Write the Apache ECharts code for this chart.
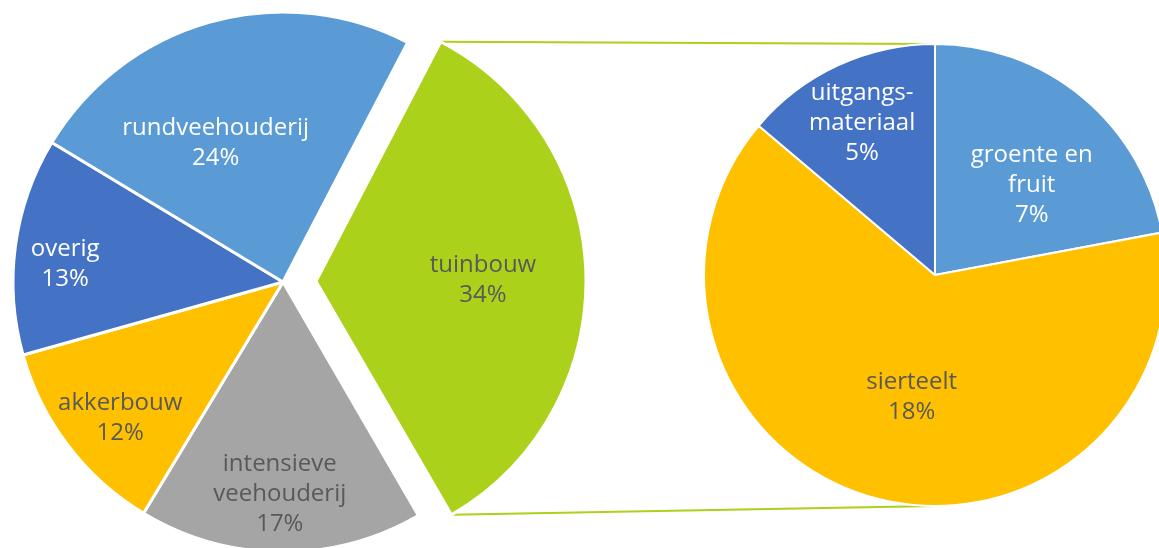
<!DOCTYPE html>
<html><head><meta charset="utf-8">
<script src="https://cdn.jsdelivr.net/npm/echarts@6/dist/echarts.min.js"></script>
<style>html,body{margin:0;padding:0;background:#fff}#c{width:1159px;height:548px}</style>
</head><body><div id="c"></div>
<script>
// main pie: sectors (clockwise from the exploded slice)
const sectorNames = ['tuinbouw', 'intensieve\nveehouderij', 'akkerbouw', 'overig', 'rundveehouderij'];
const sectorValues = [34, 17, 12, 13, 24];
const detailNames = ['groente en\nfruit', 'sierteelt', 'uitgangs-\nmateriaal'];
const detailShares = [7.5, 21.8, 4.7];
const detailLabels = ['7%', '18%', '5%'];

const sectorColors = ['#ABD11A', '#A5A5A5', '#FFC000', '#4472C4', '#5B9BD5'];
const sectorText = ['#595959', '#595959', '#595959', '#ffffff', '#ffffff'];
const detailColors = ['#5B9BD5', '#FFC000', '#4472C4'];
const detailText = ['#ffffff', '#595959', '#ffffff'];

// layout
const L = { c: [283, 282], r: 270, start: 62.5, explode: 33 };
const Rp = { c: [935, 275], r: 231, start: 90 };
const leftNudge = [[29, 2], [-2, 74], [-53, 53], [-81, 1], [-30, -6]];
const rightNudge = [[21, 1], [7, 8], [-23, -44]];

const FONT = '"Open Sans", "DejaVu Sans", sans-serif';

// geometry of the exploded slice -> connector lines
const total = sectorValues.reduce((a, b) => a + b, 0);
const a0 = L.start * Math.PI / 180;
const a1 = (L.start - 360 * sectorValues[0] / total) * Math.PI / 180;
const am = (a0 + a1) / 2;
const ox = L.c[0] + L.explode * Math.cos(am), oy = L.c[1] - L.explode * Math.sin(am);
const pTop = [ox + L.r * Math.cos(a0), oy - L.r * Math.sin(a0)];
const pBot = [ox + L.r * Math.cos(a1), oy - L.r * Math.sin(a1)];
const qTop = [Rp.c[0], Rp.c[1] - Rp.r];
const qBot = [Rp.c[0], Rp.c[1] + Rp.r];

const chart = echarts.init(document.getElementById('c'), null, { renderer: 'canvas' });
chart.setOption({
  animation: false,
  backgroundColor: '#ffffff',
  graphic: [
    { type: 'line', z: 0, shape: { x1: pTop[0], y1: pTop[1], x2: qTop[0], y2: qTop[1] }, style: { stroke: '#ABD11A', lineWidth: 2 } },
    { type: 'line', z: 0, shape: { x1: pBot[0], y1: pBot[1], x2: qBot[0], y2: qBot[1] }, style: { stroke: '#ABD11A', lineWidth: 2 } }
  ],
  series: [
    {
      type: 'pie',
      center: L.c,
      radius: [0, L.r],
      startAngle: L.start,
      clockwise: true,
      selectedMode: 'single',
      selectedOffset: L.explode,
      avoidLabelOverlap: false,
      emphasis: { disabled: true },
      itemStyle: { borderColor: '#ffffff', borderWidth: 3 },
      label: {
        show: true, position: 'inside', fontFamily: FONT, fontSize: 24, fontWeight: 500, lineHeight: 30, align: 'center',
        formatter: p => p.name + '\n' + p.value + '%'
      },
      labelLine: { show: false },
      labelLayout: p => ({ dx: leftNudge[p.dataIndex][0], dy: leftNudge[p.dataIndex][1] }),
      data: sectorNames.map((n, i) => ({
        name: n, value: sectorValues[i], selected: i === 0,
        itemStyle: { color: sectorColors[i] },
        label: { color: sectorText[i] }
      }))
    },
    {
      type: 'pie',
      center: Rp.c,
      radius: [0, Rp.r],
      startAngle: Rp.start,
      clockwise: true,
      avoidLabelOverlap: false,
      emphasis: { disabled: true },
      itemStyle: { borderColor: '#ffffff', borderWidth: 2 },
      label: {
        show: true, position: 'inside', fontFamily: FONT, fontSize: 24, fontWeight: 500, lineHeight: 30, align: 'center',
        formatter: p => p.name + '\n' + detailLabels[p.dataIndex]
      },
      labelLine: { show: false },
      labelLayout: p => ({ dx: rightNudge[p.dataIndex][0], dy: rightNudge[p.dataIndex][1] }),
      data: detailNames.map((n, i) => ({
        name: n, value: detailShares[i],
        itemStyle: { color: detailColors[i] },
        label: { color: detailText[i] }
      }))
    }
  ]
});
</script>
</body></html>
